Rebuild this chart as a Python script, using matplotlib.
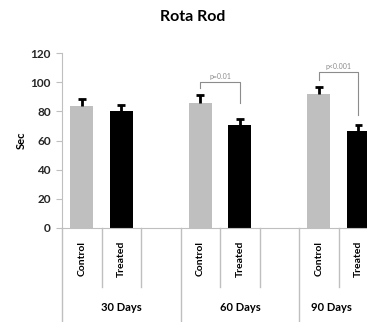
import matplotlib
matplotlib.use("Agg")
import matplotlib.pyplot as plt

plt.rcParams["font.family"] = ["Lato", "DejaVu Sans"]

groups = ["30 Days", "60 Days", "90 Days"]
conditions = ["Control", "Treated"]
control = [84, 86, 91.7]
treated = [80, 70.6, 66.5]
control_err = [4.6, 5.5, 5.2]
treated_err = [4.2, 4, 4]
yticks = [0, 20, 40, 60, 80, 100, 120]
# significance brackets: group index, label, top, left end, right end
sig_groups = [1, 2]
sig_labels = ["p=0.01", "p<0.001"]
sig_top = [100.3, 106.8]
sig_left = [95.8, 101.6]
sig_right = [85.9, 77.5]

fig = plt.figure(figsize=(3.67, 3.22), dpi=100)
ax = fig.add_axes([62 / 367, 94 / 322, 1 - 62 / 367, 175 / 322])

line_gray = "#bfbfbf"
ctrl_x = [3 * g + 0.5 for g in range(len(groups))]
trt_x = [3 * g + 1.5 for g in range(len(groups))]

ax.bar(ctrl_x, control, width=0.58, color="#bfbfbf", zorder=2)
ax.bar(trt_x, treated, width=0.58, color="black", zorder=2)

# upper-only error bars (Excel "plus" style)
cap = 0.1
for xs, ys, es in [(ctrl_x, control, control_err), (trt_x, treated, treated_err)]:
    tops = [y + e for y, e in zip(ys, es)]
    ax.vlines(xs, ys, tops, color="black", lw=2, zorder=3)
    ax.hlines(tops, [x - cap for x in xs], [x + cap for x in xs],
              color="black", lw=2, zorder=3)

ax.set_xlim(0, 305 / 39.53)
ax.set_ylim(0, 120)
ax.set_yticks(yticks)
ax.tick_params(axis="y", length=4, color=line_gray, labelsize=8.5, pad=4)
for t in ax.get_yticklabels():
    t.set_fontweight("bold")
    t.set_color("#262626")
ax.set_xticks([])
for s in ["top", "right"]:
    ax.spines[s].set_visible(False)
ax.spines["left"].set_color(line_gray)
ax.spines["bottom"].set_color(line_gray)
ax.set_ylabel("Sec", fontsize=8, fontweight="bold", labelpad=3)

# significance brackets
for g, lab, top, le, re in zip(sig_groups, sig_labels, sig_top, sig_left, sig_right):
    x0, x1 = ctrl_x[g], trt_x[g]
    ax.plot([x0, x0, x1, x1], [le, top, top, re], color="#8c8c8c", lw=0.8, zorder=1)
    ax.text((x0 + x1) / 2, top + 1.5, lab, ha="center", va="bottom",
            fontsize=5, color="#8c8c8c")

# category axis
tr = ax.get_xaxis_transform()
for i in range(0, 8):
    bottom = -0.54 if i % 3 == 0 else -0.337
    ax.plot([i, i], [0, bottom], color=line_gray, lw=1, transform=tr, clip_on=False)
for g in range(len(groups)):
    for k, c in enumerate(conditions):
        ax.text(3 * g + 0.5 + k, -0.177, c, rotation=90, ha="center", va="center",
                fontsize=7.5, fontweight="bold", transform=tr)
group_x = [1.5, 4.5, (6 + 305 / 39.53) / 2 - 0.05]
for gx, gl in zip(group_x, groups):
    ax.text(gx, -0.457, gl, ha="center", va="center", fontsize=8,
            fontweight="bold", transform=tr)

fig.text(193 / 367, 1 - 17 / 322, "Rota Rod", ha="center", va="center",
         fontsize=11.5, fontweight="bold")

fig.savefig("out.png", dpi=100)
